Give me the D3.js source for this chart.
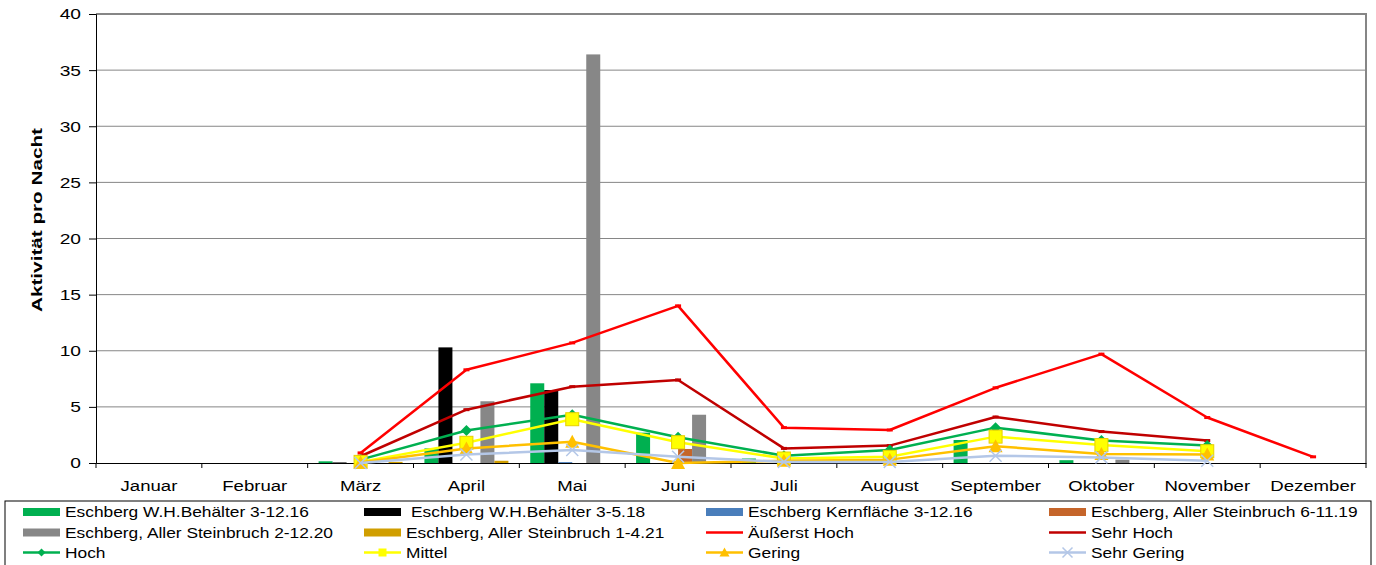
<!DOCTYPE html>
<html><head><meta charset="utf-8">
<script src="https://cdn.jsdelivr.net/npm/d3@7"></script>
<style>body{margin:0;background:#fff;}svg{display:block;font-family:"Liberation Sans",Arial,sans-serif;}</style>
</head><body><svg id="c" width="1376" height="565"></svg>
<script>
const months = ["Januar","Februar","März","April","Mai","Juni","Juli","August","September","Oktober","November","Dezember"];
const yTicks = [0,5,10,15,20,25,30,35,40];
const barNames = ["Eschberg W.H.Behälter 3-12.16","Eschberg W.H.Behälter 3-5.18","Eschberg Kernfläche 3-12.16","Eschberg, Aller Steinbruch 6-11.19","Eschberg, Aller Steinbruch 2-12.20","Eschberg, Aller Steinbruch 1-4.21"];
const barColors = ["#00B050","#000000","#4A7EBB","#C5652A","#878787","#D09E00"];
// bar values per month (null = no bar)
const wh31216 = [null,null,0.15,1.3,7.1,2.7,0.4,0.3,2.05,0.25,null,null];
const wh3518 = [null,null,0.05,10.3,6.5,null,null,null,null,null,null,null];
const kern31216 = [null,null,null,null,0.08,null,null,null,null,null,null,null];
const aller61119 = [null,null,null,null,null,1.25,null,null,null,null,null,null];
const aller21220 = [null,null,null,5.5,36.4,4.3,null,null,null,0.3,null,null];
const aller1421 = [null,null,0.1,0.2,null,null,null,null,null,null,null,null];
const barSeries = [wh31216, wh3518, kern31216, aller61119, aller21220, aller1421];

const lineNames = ["Äußerst Hoch","Sehr Hoch","Hoch","Mittel","Gering","Sehr Gering"];
const lineColors = ["#FF0000","#C00000","#00B050","#FFFF00","#FFC000","#B4C7E7"];
const lineMarkers = ["dash","dash","diamond","square","triangle","cross"];
const aeusserstHoch = [null,null,0.9,8.3,10.7,14.0,3.15,2.94,6.7,9.7,4.05,0.55];
const sehrHoch = [null,null,0.6,4.75,6.8,7.4,1.3,1.55,4.1,2.8,2.0,null];
const hoch = [null,null,0.3,2.9,4.3,2.3,0.65,1.15,3.15,2.0,1.55,null];
const mittel = [null,null,0.1,1.8,3.9,1.85,0.4,0.55,2.35,1.6,1.05,null];
const gering = [null,null,0.05,1.3,1.9,0.0,0.2,0.3,1.5,0.8,0.75,null];
const sehrGering = [null,null,0.0,0.75,1.15,0.55,0.1,0.1,0.65,0.5,0.2,null];
const lineSeries = [aeusserstHoch, sehrHoch, hoch, mittel, gering, sehrGering];

const SX = 1.24; // horizontal text stretch of the reference
const svg = d3.select("#c");
const L = 96, R = 1366, T = 14, B = 463;
const x = d3.scaleBand().domain(months).range([L, R]).padding(0);
const xb = d3.scaleBand().domain(d3.range(6)).range([0, x.bandwidth()]).paddingInner(0).paddingOuter(0.78);
const y = d3.scaleLinear().domain([0, 40]).range([B, T]);

// gridlines
svg.append("g").selectAll("line").data(yTicks.filter(d => d > 0 && d < 40)).join("line")
  .attr("x1", L).attr("x2", R).attr("y1", d => y(d)).attr("y2", d => y(d))
  .attr("stroke", "#868686").attr("stroke-width", 1);
// top & right border
svg.append("path").attr("d", `M${L},${y(40)}H${R}V${B}`).attr("fill", "none").attr("stroke", "#868686").attr("stroke-width", 2);

// bars
barSeries.forEach((vals, si) => {
  svg.append("g").selectAll("rect").data(months.map((m, i) => ({m, v: vals[i]})).filter(d => d.v != null)).join("rect")
    .attr("x", d => x(d.m) + xb(si)).attr("width", xb.bandwidth())
    .attr("y", d => y(d.v)).attr("height", d => y(0) - y(d.v))
    .attr("fill", barColors[si]);
});

// axes
const yAxis = d3.axisLeft(y).tickValues(yTicks).tickSize(7).tickPadding(8);
const ga = svg.append("g").attr("transform", `translate(${L},0)`).call(yAxis);
ga.select(".domain").attr("stroke", "#000");
ga.selectAll(".tick line").attr("stroke", "#000");
ga.selectAll("text").attr("font-size", 15.5).attr("fill", "#000").attr("font-family", "Liberation Sans, Arial, sans-serif")
  .attr("x", 0).attr("transform", `translate(-15,0) scale(${SX},1)`);
const xAxis = d3.axisBottom(x).tickSize(0).tickPadding(0);
const gx = svg.append("g").attr("transform", `translate(0,${B})`).call(xAxis);
gx.select(".domain").attr("stroke", "#000");
gx.selectAll("text").attr("font-size", 15).attr("fill", "#000").attr("font-family", "Liberation Sans, Arial, sans-serif")
  .attr("y", 0).attr("dy", 0).attr("transform", `translate(0,28) scale(${SX},1)`);
svg.append("g").selectAll("line").data(months.map(m => x(m)).concat([R])).join("line")
  .attr("x1", d => d).attr("x2", d => d).attr("y1", B).attr("y2", B + 5).attr("stroke", "#000");

svg.append("text").attr("transform", `translate(42,220) rotate(-90)`)
  .attr("text-anchor", "middle").attr("font-size", 15).attr("font-weight", "bold")
  .attr("textLength", 184).attr("lengthAdjust", "spacingAndGlyphs").text("Aktivität pro Nacht");

// markers
function drawMarker(g, type, color, cx, cy) {
  if (type === "diamond") {
    g.append("path").attr("d", `M${cx},${cy-5.5}L${cx+5.5},${cy}L${cx},${cy+5.5}L${cx-5.5},${cy}Z`).attr("fill", color);
  } else if (type === "square") {
    g.append("rect").attr("x", cx-6.5).attr("y", cy-6.5).attr("width", 13).attr("height", 13).attr("fill", color).attr("stroke", "#E8D000").attr("stroke-width", 1);
  } else if (type === "triangle") {
    g.append("path").attr("d", `M${cx},${cy-7}L${cx+7},${cy+6}L${cx-7},${cy+6}Z`).attr("fill", color);
  } else if (type === "cross") {
    g.append("path").attr("d", `M${cx-6},${cy-6}L${cx+6},${cy+6}M${cx-6},${cy+6}L${cx+6},${cy-6}`).attr("stroke", color).attr("stroke-width", 1.5);
  } else if (type === "dash") {
    g.append("rect").attr("x", cx-3).attr("y", cy-1.5).attr("width", 6).attr("height", 3).attr("fill", color);
  }
}

const line = d3.line().defined(d => d.v != null).x(d => x(d.m) + x.bandwidth() / 2).y(d => y(d.v));
lineSeries.forEach((vals, si) => {
  const data = months.map((m, i) => ({m, v: vals[i]}));
  const g = svg.append("g");
  g.append("path").datum(data).attr("d", line).attr("fill", "none")
    .attr("stroke", lineColors[si]).attr("stroke-width", 2.5).attr("stroke-linejoin", "round");
  data.filter(d => d.v != null).forEach(d => drawMarker(g, lineMarkers[si], lineColors[si], x(d.m) + x.bandwidth() / 2, y(d.v)));
});

// legend
svg.append("rect").attr("x", 5).attr("y", 501).attr("width", 1366).attr("height", 70).attr("fill", "none").attr("stroke", "#000").attr("stroke-width", 1);
const legendItems = [];
barNames.forEach((n, i) => legendItems.push({name: n, type: "bar", color: barColors[i]}));
lineNames.forEach((n, i) => legendItems.push({name: n, type: "line", color: lineColors[i], marker: lineMarkers[i]}));
const colX = [23, 364, 706, 1049];
const rowY = [512, 532.5, 552.5];
const SW = 37;
const lg = svg.append("g");
legendItems.forEach((it, i) => {
  const cx = colX[i % 4], cy = rowY[Math.floor(i / 4)];
  if (it.type === "bar") {
    lg.append("rect").attr("x", cx).attr("y", cy - 4).attr("width", SW).attr("height", 8).attr("fill", it.color);
  } else {
    lg.append("line").attr("x1", cx).attr("x2", cx + SW).attr("y1", cy).attr("y2", cy).attr("stroke", it.color).attr("stroke-width", 2.5);
    const m = cx + SW / 2;
    if (it.marker === "diamond") {
      lg.append("path").attr("d", `M${m},${cy-4}L${m+4},${cy}L${m},${cy+4}L${m-4},${cy}Z`).attr("fill", it.color);
    } else if (it.marker === "square") {
      lg.append("rect").attr("x", m-4).attr("y", cy-4).attr("width", 8).attr("height", 8).attr("fill", it.color);
    } else if (it.marker === "triangle") {
      lg.append("path").attr("d", `M${m},${cy-5}L${m+5},${cy+4}L${m-5},${cy+4}Z`).attr("fill", it.color);
    } else if (it.marker === "cross") {
      lg.append("path").attr("d", `M${m-5},${cy-5}L${m+5},${cy+5}M${m-5},${cy+5}L${m+5},${cy-5}`).attr("stroke", it.color).attr("stroke-width", 1.5);
    }
  }
  const tx = cx + SW + 5 + (i === 1 ? 5 : 0);
  lg.append("text").attr("transform", `translate(${tx},${cy + 5}) scale(${SX},1)`)
    .attr("font-size", 14).attr("fill", "#000").text(it.name);
});
</script></body></html>
